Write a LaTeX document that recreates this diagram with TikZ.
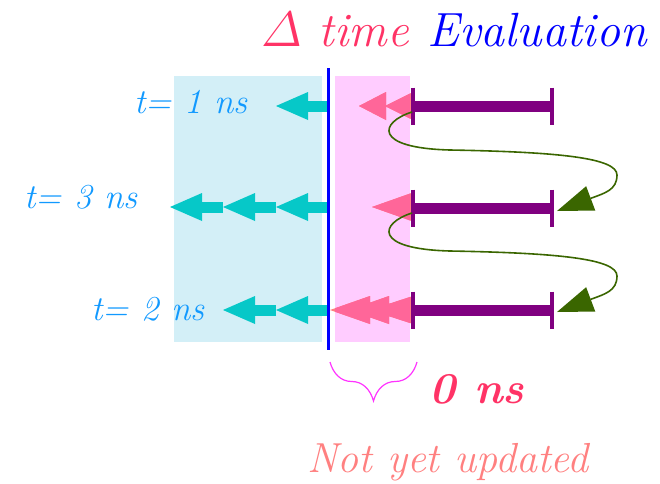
\documentclass[tikz,border=0pt]{standalone}
\usepackage{amsmath}
\usetikzlibrary{arrows.meta,decorations.pathreplacing}
\definecolor{lblblue}{RGB}{17,153,255}
\definecolor{deltared}{RGB}{255,51,102}
\definecolor{salmonred}{RGB}{255,128,128}
\definecolor{bgblue}{RGB}{211,239,247}
\definecolor{bgpink}{RGB}{255,204,255}
\definecolor{cyanarrow}{RGB}{6,200,200}
\definecolor{pinkarrow}{RGB}{255,102,153}
\definecolor{barpurple}{RGB}{128,0,128}
\definecolor{curvegreen}{RGB}{58,102,0}
\definecolor{bracemag}{RGB}{255,51,255}
\newcommand\pinkheads{%
  (359,106) -- (386,92) -- (386,120) -- cycle
  (385,106) -- (413,92) -- (413,120) -- cycle
  (372,207) -- (413,192.5) -- (413,221.5) -- cycle
  (330,310) -- (370,296) -- (370,324) -- cycle
  (349,310) -- (389,296) -- (389,324) -- cycle
  (370,310) -- (413,296) -- (413,324) -- cycle}
\begin{document}
\begin{tikzpicture}[x=0.5pt,y=-0.5pt,
  cyanarr/.style={draw=cyanarrow, line width=5.5pt, -{Triangle[length=16pt,width=14pt,line width=0pt]}},
  barline/.style={draw=barpurple, line width=5.5pt},
  bartick/.style={draw=barpurple, line width=2pt},
  greencurve/.style={draw=curvegreen, line width=0.8pt, -{Triangle[length=18pt,width=13pt,line width=0pt]}},
  lbl/.style={anchor=base, text=lblblue, font=\fontsize{17.5}{21}\selectfont\itshape},
  title/.style={anchor=base, font=\fontsize{24}{28}\selectfont\itshape}
]
\useasboundingbox (0,0) rectangle (660,483);
% backgrounds
\fill[bgblue] (174,76) rectangle (322,342);
\fill[bgpink] (335,76) rectangle (410,342);
% coordinates
\coordinate (v0) at (328,106);
\coordinate (v1) at (276,106);
\coordinate (w0) at (328,207);
\coordinate (w1) at (276,207);
\coordinate (w2) at (223,207);
\coordinate (w3) at (170,207);
\coordinate (u0) at (328,310);
\coordinate (u1) at (276,310);
\coordinate (u2) at (223,310);
% cyan arrows
\draw[cyanarr] (v0) -- (v1);
\draw[cyanarr] (w0) -- (w1);
\draw[cyanarr] (w1) -- (w2);
\draw[cyanarr] (w2) -- (w3);
\draw[cyanarr] (u0) -- (u1);
\draw[cyanarr] (u1) -- (u2);
% pink heads
\fill[salmonred] \pinkheads;
\begin{scope}
  \clip (335,76) rectangle (410,342);
  \fill[pinkarrow] \pinkheads;
\end{scope}
% blue time line
\coordinate (bt) at (328,68);
\coordinate (bb) at (328,350);
\draw[blue, line width=1.5pt] (bt) -- (bb);
% purple bars
\foreach \y/\n in {106/a,208/b,310/c}{
  \coordinate (\n l) at (413,\y);
  \coordinate (\n r) at (552,\y);
  \draw[barline] (\n l) -- (\n r);
  \draw[bartick] (413,\y-18.5) -- (413,\y+18.5);
  \draw[bartick] (552,\y-18.5) -- (552,\y+18.5);
}
% green curves
\coordinate (g1s) at (412,112);
\coordinate (g1e) at (557,211);
\coordinate (g2s) at (412,213);
\coordinate (g2e) at (557,312);
\draw[greencurve] (g1s) .. controls (380,122) and (372,148) .. (450,150)
  .. controls (560,152) and (617,158) .. (617,175)
  .. controls (617,190) and (605,193) .. (g1e);
\draw[greencurve] (g2s) .. controls (380,223) and (372,249) .. (450,251)
  .. controls (560,253) and (617,259) .. (617,276)
  .. controls (617,291) and (605,294) .. (g2e);
% brace
\coordinate (brl) at (330,362);
\coordinate (brr) at (417,362);
\draw[bracemag, line width=0.6pt, decorate, decoration={brace, amplitude=19.5pt, mirror}] (brl) -- (brr);
% texts
\node[title, text=deltared] (dt) at (335,46) {$\varDelta$ time};
\node[title, text=blue] (ev) at (537,46) {Evaluation};
\node[lbl] (t1) at (191,113) {t= 1 ns};
\node[lbl] (t3) at (81,208) {t= 3 ns};
\node[lbl] (t2) at (148,320) {t= 2 ns};
\node[anchor=base, text=deltared, font=\fontsize{22}{26}\selectfont\bfseries\itshape] (zero) at (477,403) {0 ns};
\node[anchor=base, text=salmonred, font=\fontsize{21}{25}\selectfont\itshape] (nyu) at (448,472) {Not yet updated};
\end{tikzpicture}
\end{document}
